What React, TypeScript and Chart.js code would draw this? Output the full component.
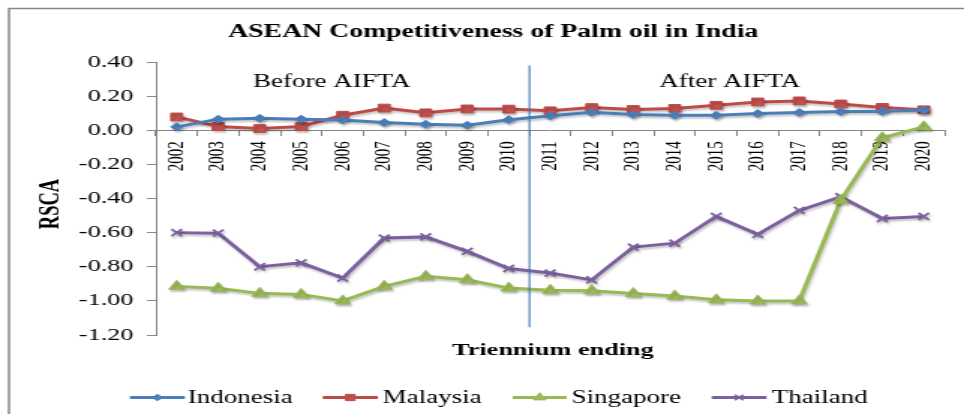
import React, { useEffect, useRef } from 'react';
import { Chart, registerables } from 'chart.js';
import { drawPoint } from 'chart.js/helpers';

Chart.register(...registerables);

// ---------- data ----------
const years = ['2002', '2003', '2004', '2005', '2006', '2007', '2008', '2009', '2010', '2011', '2012', '2013', '2014', '2015', '2016', '2017', '2018', '2019', '2020'];
const indonesia = [0.02, 0.065, 0.07, 0.065, 0.06, 0.045, 0.035, 0.03, 0.062, 0.085, 0.105, 0.092, 0.088, 0.088, 0.098, 0.104, 0.11, 0.11, 0.118];
const malaysia = [0.078, 0.022, 0.01, 0.022, 0.088, 0.13, 0.102, 0.125, 0.124, 0.114, 0.133, 0.122, 0.128, 0.146, 0.166, 0.172, 0.154, 0.134, 0.12];
const singapore = [-0.915, -0.926, -0.956, -0.962, -1.0, -0.915, -0.856, -0.876, -0.925, -0.938, -0.94, -0.957, -0.972, -0.994, -1.0, -1.0, -0.41, -0.044, 0.02];
const thailand = [-0.6, -0.603, -0.8, -0.777, -0.866, -0.632, -0.625, -0.71, -0.81, -0.837, -0.877, -0.685, -0.662, -0.505, -0.61, -0.47, -0.39, -0.517, -0.505];
const seriesNames = ['Indonesia', 'Malaysia', 'Singapore', 'Thailand'];
const yMin = -1.2;
const yMax = 0.4;
const yStep = 0.2;
const titleText = 'ASEAN Competitiveness of Palm oil in India';
const xTitle = 'Triennium ending';
const yTitle = 'RSCA';
const beforeLabel = 'Before AIFTA';
const afterLabel = 'After AIFTA';
const breakAfterIndex = 8; // between 2010 and 2011

// ---------- layout / style ----------
const PAGE_W = 964;
const PAGE_H = 414;
const CW = 643; // canvas drawn narrow, then stretched horizontally like the reference
const SX = PAGE_W / CW;
const SERIF = '"Liberation Serif", "Times New Roman", serif';

const styles = [
  { color: '#4A7EBB', fill: '#4F81BD', pointStyle: 'rectRot', radius: 4 },
  { color: '#BE4B48', fill: '#C0504D', pointStyle: 'rect', radius: 5.5 },
  { color: '#98B954', fill: '#9BBB59', pointStyle: 'triangle', radius: 6 },
  { color: '#7D60A0', fill: '#8064A2', pointStyle: 'crossRot', radius: 5 },
];
const seriesData = [indonesia, malaysia, singapore, thailand];

const legendItems = [
  { x0: 86.7, x1: 123.3, tx: 125.3 },
  { x0: 215.3, x1: 252, tx: 255.3 },
  { x0: 342, x1: 378, tx: 381.3 },
  { x0: 474.7, x1: 511.3, tx: 514.7 },
];

const decorPlugin = {
  id: 'decor',
  beforeDraw(chart: any) {
    const ctx = chart.ctx;
    ctx.save();
    ctx.fillStyle = '#ffffff';
    ctx.fillRect(0, 0, chart.width, chart.height);
    ctx.strokeStyle = '#868686';
    ctx.lineWidth = 1.5;
    ctx.strokeRect(6, 8.5, chart.width + 20, chart.height + 20);
    ctx.restore();
  },
  beforeDatasetsDraw(chart: any) {
    const ctx = chart.ctx;
    ctx.save();
    ctx.shadowColor = 'rgba(0,0,0,0.22)';
    ctx.shadowBlur = 2;
    ctx.shadowOffsetX = 1;
    ctx.shadowOffsetY = 2;
  },
  afterDatasetsDraw(chart: any) {
    chart.ctx.restore();
  },
  afterDraw(chart: any) {
    const ctx = chart.ctx;
    const xs = chart.scales.x;
    const ys = chart.scales.y;
    ctx.save();
    // break line
    const bx = (xs.getPixelForValue(breakAfterIndex) + xs.getPixelForValue(breakAfterIndex + 1)) / 2;
    ctx.strokeStyle = '#3D72B6';
    ctx.lineWidth = 1.1;
    ctx.beginPath();
    ctx.moveTo(bx, ys.getPixelForValue(0.38));
    ctx.lineTo(bx, ys.getPixelForValue(-1.155));
    ctx.stroke();

    ctx.fillStyle = '#000';
    ctx.textAlign = 'center';
    ctx.textBaseline = 'alphabetic';
    ctx.font = `bold 18.5px ${SERIF}`;
    ctx.fillText(titleText, 329, 37);

    ctx.font = `18px ${SERIF}`;
    ctx.fillText(beforeLabel, 221.3, 87);
    ctx.fillText(afterLabel, 486.7, 87);

    ctx.font = `bold 17.5px ${SERIF}`;
    ctx.fillText(xTitle, 368.8, 354.5);

    ctx.save();
    ctx.translate(34, 204);
    ctx.rotate(-Math.PI / 2);
    ctx.font = `bold 18.5px ${SERIF}`;
    ctx.textBaseline = 'middle';
    ctx.fillText(yTitle, 0, 0);
    ctx.restore();

    // legend
    const ly = 397.5;
    legendItems.forEach((it, i) => {
      const st = styles[i];
      ctx.strokeStyle = st.color;
      ctx.lineWidth = 3;
      ctx.beginPath();
      ctx.moveTo(it.x0, ly);
      ctx.lineTo(it.x1, ly);
      ctx.stroke();
      ctx.fillStyle = st.fill;
      ctx.strokeStyle = st.color;
      ctx.lineWidth = st.pointStyle === 'crossRot' ? 1.5 : 1;
      drawPoint(ctx, { pointStyle: st.pointStyle, radius: st.radius * 0.8, rotation: 0, borderWidth: 1 } as any, (it.x0 + it.x1) / 2, ly);
      ctx.fillStyle = '#000';
      ctx.textAlign = 'left';
      ctx.textBaseline = 'alphabetic';
      ctx.font = `18px ${SERIF}`;
      ctx.fillText(seriesNames[i], it.tx, 403);
    });
    ctx.restore();
  },
};

export default function App() {
  const ref = useRef<HTMLCanvasElement>(null);
  useEffect(() => {
    if (!ref.current) return;
    const chart = new Chart(ref.current, {
      type: 'line',
      data: {
        labels: years,
        datasets: seriesData.map((d, i) => ({
          label: seriesNames[i],
          data: d,
          borderColor: styles[i].color,
          backgroundColor: styles[i].fill,
          pointBackgroundColor: styles[i].fill,
          pointBorderColor: styles[i].color,
          pointStyle: styles[i].pointStyle as any,
          pointRadius: styles[i].radius,
          pointBorderWidth: styles[i].pointStyle === 'crossRot' ? 1.8 : 1,
          borderWidth: 3,
          tension: 0,
          fill: false,
        })),
      },
      options: {
        responsive: false,
        animation: false,
        devicePixelRatio: 1,
        layout: { padding: { top: 62, bottom: 79, left: 0, right: 13 } },
        plugins: {
          legend: { display: false },
          title: { display: false },
          tooltip: { enabled: false },
        },
        scales: {
          x: {
            type: 'category',
            position: { y: 0 } as any,
            offset: true,
            grid: {
              offset: true,
              drawOnChartArea: false,
              drawTicks: true,
              tickLength: 5,
              color: '#868686',
            },
            border: { display: true, color: '#868686', width: 1 },
            ticks: {
              autoSkip: false,
              minRotation: 90,
              maxRotation: 90,
              padding: 6,
              color: '#000',
              font: { family: SERIF, size: 15 },
            },
          },
          y: {
            type: 'linear',
            position: 'left',
            min: yMin,
            max: yMax,
            afterFit: (s: any) => {
              s.width = 104;
            },
            grid: {
              drawOnChartArea: false,
              drawTicks: true,
              tickLength: 6,
              color: '#868686',
            },
            border: { display: true, color: '#868686', width: 1 },
            ticks: {
              stepSize: yStep,
              padding: 9,
              color: '#000',
              font: { family: SERIF, size: 17.5 },
              callback: (v: any) => {
                const n = Math.abs(Number(v)) < 1e-9 ? 0 : Number(v);
                return n.toFixed(2);
              },
            },
          },
        },
      },
      plugins: [decorPlugin],
    });
    return () => chart.destroy();
  }, []);

  return (
    <div style={{ position: 'fixed', left: 0, top: 0, width: PAGE_W, height: PAGE_H, overflow: 'hidden', background: '#fff' }}>
      <div style={{ width: CW, height: PAGE_H, transform: `scaleX(${SX})`, transformOrigin: '0 0' }}>
        <canvas ref={ref} width={CW} height={PAGE_H} style={{ display: 'block', width: CW, height: PAGE_H }} />
      </div>
    </div>
  );
}
